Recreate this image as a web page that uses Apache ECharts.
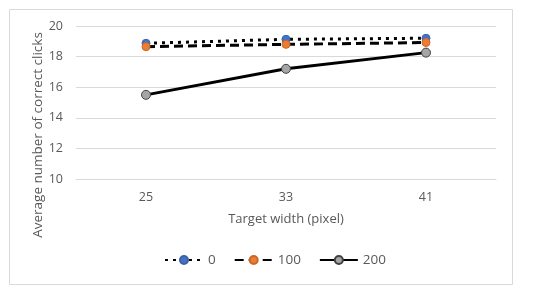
<!DOCTYPE html>
<html><head><meta charset="utf-8">
<script src="https://cdn.jsdelivr.net/npm/echarts@6/dist/echarts.min.js"></script>
<style>html,body{margin:0;padding:0;background:#fff}#c{width:550px;height:294px}</style>
</head><body><div id="c"></div>
<script>
const categories = ['25', '33', '41'];
const seriesNames = ['0', '100', '200'];
const values0 = [18.87, 19.13, 19.2];
const values100 = [18.65, 18.8, 18.92];
const values200 = [15.5, 17.2, 18.26];
const yTicks = [10, 12, 14, 16, 18, 20];
const yTitle = 'Average number of correct clicks';

const font = 'Open Sans';
const grey = '#595959';
const chart = echarts.init(document.getElementById('c'), null, {renderer: 'canvas'});
chart.setOption({
  animation: false,
  textStyle: {fontFamily: font},
  graphic: [
    {type: 'rect', shape: {x: 9.5, y: 9.5, width: 503, height: 275}, style: {fill: 'none', stroke: '#d9d9d9', lineWidth: 1}, silent: true},
    {type: 'text', x: 38, y: 135, rotation: Math.PI / 2, silent: true,
     style: {text: yTitle, fill: grey, font: '13.5px "Open Sans"', align: 'center', verticalAlign: 'middle'}}
  ],
  grid: {left: 76, right: 54, top: 26, bottom: 115},
  xAxis: {
    type: 'category', data: categories, boundaryGap: true,
    axisLine: {show: true, lineStyle: {color: '#d9d9d9'}}, axisTick: {show: false},
    axisLabel: {color: grey, fontSize: 12.5, margin: 12, fontFamily: font},
    name: 'Target width (pixel)', nameLocation: 'middle', nameGap: 34,
    nameTextStyle: {color: grey, fontSize: 13, fontFamily: font}
  },
  yAxis: {
    type: 'value', min: yTicks[0], max: yTicks[yTicks.length - 1], interval: 2,
    axisLine: {show: false}, axisTick: {show: false},
    splitLine: {lineStyle: {color: '#d9d9d9', width: 1}},
    axisLabel: {color: grey, fontSize: 12.5, margin: 13, fontFamily: font}
  },
  legend: {
    bottom: 22, left: 'center', itemWidth: 38, itemHeight: 10, itemGap: 18,
    textStyle: {color: grey, fontSize: 13.5, fontFamily: font},
    data: seriesNames
  },
  series: [
    {name: seriesNames[0], type: 'line', data: values0, symbol: 'circle', symbolSize: 8,
     lineStyle: {color: '#000', width: 3, type: [3, 5]},
     itemStyle: {color: '#4472C4', borderColor: '#3a62a8', borderWidth: 1}, z: 3},
    {name: seriesNames[1], type: 'line', data: values100, symbol: 'circle', symbolSize: 8,
     lineStyle: {color: '#000', width: 3, type: [9, 5]},
     itemStyle: {color: '#ED7D31', borderColor: '#c9672a', borderWidth: 1}, z: 4},
    {name: seriesNames[2], type: 'line', data: values200, symbol: 'circle', symbolSize: 9,
     lineStyle: {color: '#000', width: 3},
     itemStyle: {color: '#A5A5A5', borderColor: '#404040', borderWidth: 1}, z: 2}
  ]
});
</script></body></html>
